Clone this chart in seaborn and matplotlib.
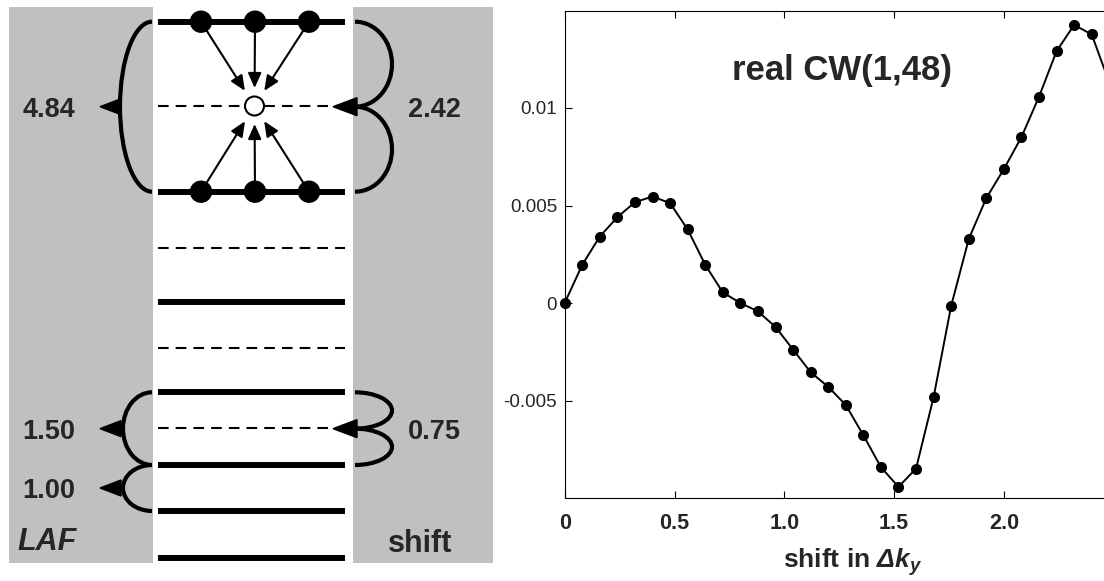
import matplotlib.pyplot as plt
import matplotlib.patches as mpatches
import numpy as np
import pandas as pd
import seaborn as sns

# real part of CW(1,48) against shift (in units of delta k_y)
shift = [0.00, 0.08, 0.16, 0.24, 0.32, 0.40, 0.48, 0.56, 0.64, 0.72,
         0.80, 0.88, 0.96, 1.04, 1.12, 1.20, 1.28, 1.36, 1.44, 1.52,
         1.60, 1.68, 1.76, 1.84, 1.92, 2.00, 2.08, 2.16, 2.24, 2.32,
         2.40, 2.48]
cw_real = [0.0, 0.00196, 0.00341, 0.00440, 0.00517, 0.00546, 0.00512, 0.00377, 0.00196, 0.00054,
           0.0, -0.00043, -0.00123, -0.00239, -0.00355, -0.00430, -0.00523, -0.00678, -0.00842, -0.00943,
           -0.00849, -0.00482, -0.00014, 0.00328, 0.00538, 0.00687, 0.00851, 0.01058, 0.01292, 0.01426,
           0.01377, 0.01130]

x_ticks = [0, 0.5, 1.0, 1.5, 2.0]
x_labels = ['0', '0.5', '1.0', '1.5', '2.0']
y_ticks = [-0.005, 0, 0.005, 0.01]
y_labels = ['-0.005', '0', '0.005', '0.01']

# level scheme on the left (drawn in pixel units)
level_y = [21.7, 106, 191.7, 247.7, 302.3, 348.3, 392.3, 428.3, 465, 511, 558.3]
level_kind = ['solid', 'dashed', 'solid', 'dashed', 'solid', 'dashed',
              'solid', 'dashed', 'solid', 'solid', 'solid']
laf_labels = ['4.84', '1.50', '1.00']
laf_spans = [(21.7, 191.7), (392.3, 465), (465, 511)]
shift_labels = ['2.42', '0.75']
shift_spans = [(21.7, 191.7), (392.3, 465)]
site_x = [201, 255, 309]

sns.set_style('ticks')
plt.rcParams['font.family'] = ['Liberation Sans', 'DejaVu Sans']
plt.rcParams['mathtext.fontset'] = 'custom'
plt.rcParams['mathtext.rm'] = 'Liberation Sans:italic:bold'
plt.rcParams['mathtext.it'] = 'Liberation Sans:italic:bold'
plt.rcParams['mathtext.bf'] = 'Liberation Sans:bold'

fig = plt.figure(figsize=(11.04, 5.81), dpi=100)

# LEFT DIAGRAM
ax0 = fig.add_axes([0, 0, 500 / 1104, 1])
ax0.set_xlim(0, 500)
ax0.set_ylim(581, 0)
ax0.axis('off')
ax0.add_patch(mpatches.Rectangle((9, 7), 484, 556, color='#c0c0c0', lw=0))
ax0.add_patch(mpatches.Rectangle((153, 7), 200, 556, color='white', lw=0))

for y, kind in zip(level_y, level_kind):
    if kind == 'solid':
        ax0.plot([158, 345], [y, y], color='k', lw=4.3, solid_capstyle='butt')
    else:
        ax0.plot([158, 345], [y, y], color='k', lw=1.5, dashes=(5.1, 3.4),
                 dash_capstyle='butt')

hub_x, hub_y = 254.5, level_y[1]
for sx in site_x:
    for sy in (level_y[0], level_y[2]):
        ax0.add_patch(mpatches.Circle((sx, sy), 10.5, color='k', zorder=4))
        dx, dy = hub_x - sx, hub_y - sy
        d = np.hypot(dx, dy)
        tip = (hub_x - dx / d * 18, hub_y - dy / d * 18)
        ax0.add_patch(mpatches.FancyArrowPatch(
            (sx, sy), tip, arrowstyle='-|>,head_length=0.45,head_width=0.2',
            mutation_scale=20, lw=1.5, color='k', shrinkA=0, shrinkB=0, zorder=3))
ax0.add_patch(mpatches.Circle((hub_x, hub_y), 9.5, fc='white', ec='k', lw=1.5, zorder=5))

for (y0, y1), lab in zip(laf_spans, laf_labels):
    yc = (y0 + y1) / 2
    depth = 32 if y1 - y0 > 100 else 29
    ax0.add_patch(mpatches.Arc((152, yc), 2 * depth, y1 - y0, theta1=90, theta2=270,
                               lw=3, color='k'))
    ax0.add_patch(mpatches.Polygon([(100, yc), (121, yc - 8), (121, yc + 8)],
                                   closed=True, color='k'))
    ax0.text(49, yc + 10, lab, ha='center', va='baseline', fontsize=19.5,
             fontweight='bold')

for (y0, y1), lab in zip(shift_spans, shift_labels):
    ym = (y0 + y1) / 2
    for a, b in ((y0, ym), (ym, y1)):
        ax0.add_patch(mpatches.Arc((355, (a + b) / 2), 74, b - a, theta1=-90, theta2=90,
                                   lw=3, color='k'))
    ax0.add_patch(mpatches.Polygon([(333, ym), (357, ym - 9), (357, ym + 9)],
                                   closed=True, color='k'))
    ax0.text(434, ym + 10, lab, ha='center', va='baseline', fontsize=19.5,
             fontweight='bold')

ax0.text(46.7, 550, 'LAF', ha='center', va='baseline', fontsize=22,
         fontweight='bold', style='italic')
ax0.text(420, 551.7, 'shift', ha='center', va='baseline', fontsize=22,
         fontweight='bold')

# RIGHT CHART
ax = fig.add_axes([564.7 / 1104, 83 / 581, 549 / 1104, 487.5 / 581])
df = pd.DataFrame({'shift': shift, 'cw': cw_real})
sns.lineplot(data=df, x='shift', y='cw', ax=ax, color='k', lw=1.4)
sns.scatterplot(data=df, x='shift', y='cw', ax=ax, color='k', s=64,
                linewidth=0, zorder=3, clip_on=False, legend=False)
ax.set_xlim(0, 2.5)
ax.set_ylim(-0.01, 0.015)
ax.set_xticks(x_ticks, x_labels)
ax.set_yticks(y_ticks, y_labels)
ax.tick_params(direction='in', length=5, width=0.8, top=True, right=True, color='k')
ax.tick_params(axis='x', labelsize=15.5, pad=10.5)
ax.tick_params(axis='y', labelsize=13.5, pad=5.5)
for lab in ax.get_xticklabels():
    lab.set_fontweight('bold')
for sp in ax.spines.values():
    sp.set_linewidth(0.8)
    sp.set_color('k')
ax.set_ylabel('')
ax.set_xlabel(r'shift in $\Delta k_y$', fontsize=19, fontweight='bold', va='baseline')
ax.xaxis.set_label_coords(0.525, -0.1436)
ax.text(1.263, 0.01144, 'real CW(1,48)', ha='center', va='baseline',
        fontsize=25, fontweight='bold')

fig.savefig('out.png', dpi=100)
